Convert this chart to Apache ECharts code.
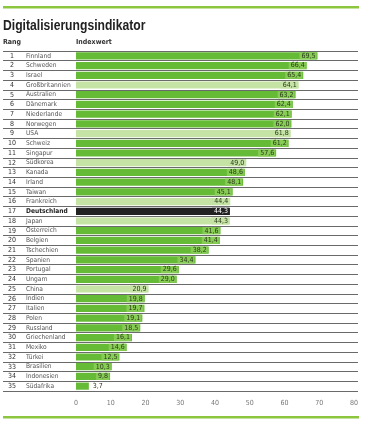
<!DOCTYPE html>
<html><head><meta charset="utf-8">
<script src="https://cdn.jsdelivr.net/npm/echarts@6/dist/echarts.min.js"></script>
<style>html,body{margin:0;padding:0;background:#fff}#c{width:366px;height:428px}</style>
</head><body><div id="c"></div>
<script>
const ranks = [1,2,3,4,5,6,7,8,9,10,11,12,13,14,15,16,17,18,19,20,21,22,23,24,25,26,27,28,29,30,31,32,33,34,35];
const countries = ['Finnland','Schweden','Israel','Großbritannien','Australien','Dänemark','Niederlande','Norwegen','USA','Schweiz','Singapur','Südkorea','Kanada','Irland','Taiwan','Frankreich','Deutschland','Japan','Österreich','Belgien','Tschechien','Spanien','Portugal','Ungarn','China','Indien','Italien','Polen','Russland','Griechenland','Mexiko','Türkei','Brasilien','Indonesien','Südafrika'];
const values = [69.5,66.4,65.4,64.1,63.2,62.4,62.1,62.0,61.8,61.2,57.6,49.0,48.6,48.1,45.1,44.4,44.3,44.3,41.6,41.4,38.2,34.4,29.6,29.0,20.9,19.8,19.7,19.1,18.5,16.1,14.6,12.5,10.3,9.8,3.7];
// group: 'a' = standard, 'b' = hervorgehoben (hell), 'de' = Deutschland
const groups = ['a','a','a','b','a','a','a','a','b','a','a','b','a','a','a','b','de','b','a','a','a','a','a','a','b','a','a','a','a','a','a','a','a','a','a'];
const xTicks = [0,10,20,30,40,50,60,70,80];

const FONT = "'Liberation Sans Narrow','DejaVu Sans Condensed','Liberation Sans',sans-serif";
const colorMap = {a:'#66bb36', b:'#c4e3a4', de:'#222222'};
const labelBg = {a:'#86cc55', b:'#c4e3a4', de:'#222222'};

const data = values.map((v,i)=>{
  const g = groups[i];
  const inside = v >= 6;
  return {
    value: v,
    itemStyle: {color: colorMap[g]},
    label: {
      position: inside ? 'insideRight' : 'right',
      distance: inside ? 1 : 2,
      color: g==='de' ? '#ffffff' : '#2a3a1a',
      backgroundColor: inside ? labelBg[g] : 'transparent',
      padding: [0,1,0,2]
    }
  };
});

const chart = echarts.init(document.getElementById('c'), null, {renderer:'canvas'});
chart.setOption({
  animation: false,
  backgroundColor: '#fff',
  title: [
    {text:'Rang', left:3, top:39, padding:0,
     textStyle:{fontFamily:FONT, fontSize:7, fontWeight:'bold', color:'#333'}},
    {text:'Indexwert', left:76, top:39, padding:0,
     textStyle:{fontFamily:FONT, fontSize:7, fontWeight:'bold', color:'#333'}}
  ],
  graphic: [
    {type:'rect', left:3, top:6, shape:{width:356, height:2.5}, style:{fill:'#8cc63f'}},
    {type:'rect', left:3, top:416, shape:{width:356, height:2.5}, style:{fill:'#8cc63f'}},
    {type:'text', x:3, y:18, scaleX:0.81,
     style:{text:'Digitalisierungsindikator', fontFamily:"'Liberation Sans',sans-serif", fontSize:15, fontWeight:'bold', fill:'#222'}}
  ],
  grid: [
    {left:76, right:12, top:51, bottom:37},
    {left:3, right:8, top:51, bottom:37}
  ],
  xAxis: [
    {type:'value', gridIndex:0, min:xTicks[0], max:xTicks[xTicks.length-1], interval:10,
     axisLine:{show:false}, axisTick:{show:false}, splitLine:{show:false},
     axisLabel:{fontFamily:FONT, fontSize:7, color:'#777', margin:9}},
    {type:'value', gridIndex:1, min:0, max:1, show:false}
  ],
  yAxis: [
    {type:'category', gridIndex:0, data:countries, inverse:true,
     axisLine:{show:false}, axisTick:{show:false}, splitLine:{show:false},
     axisLabel:{
       interval:0, margin:73, align:'left',
       formatter:(name)=>{
         const i = countries.indexOf(name);
         const r = ranks[i];
         return name==='Deutschland' ? `{r|${r}}{d|${name}}` : `{r|${r}}{n|${name}}`;
       },
       rich:{
         r:{width:18, align:'right', fontFamily:FONT, fontSize:7, color:'#333'},
         n:{padding:[0,0,0,5], fontFamily:FONT, fontSize:6.6, color:'#555'},
         d:{padding:[0,0,0,5], fontFamily:FONT, fontSize:6.6, color:'#222', fontWeight:'bold'}
       }
     }},
    {type:'category', gridIndex:1, data:countries, inverse:true,
     axisLine:{show:false}, axisTick:{show:false}, axisLabel:{show:false, interval:0},
     splitLine:{show:true, interval:0, lineStyle:{color:'#444', width:0.8}}}
  ],
  series: [
    {type:'bar', xAxisIndex:0, yAxisIndex:0, data:data, barCategoryGap:'26%',
     label:{show:true, fontFamily:FONT, fontSize:7, formatter:p=>p.value.toFixed(1).replace('.',',')}}
  ]
});
</script></body></html>
